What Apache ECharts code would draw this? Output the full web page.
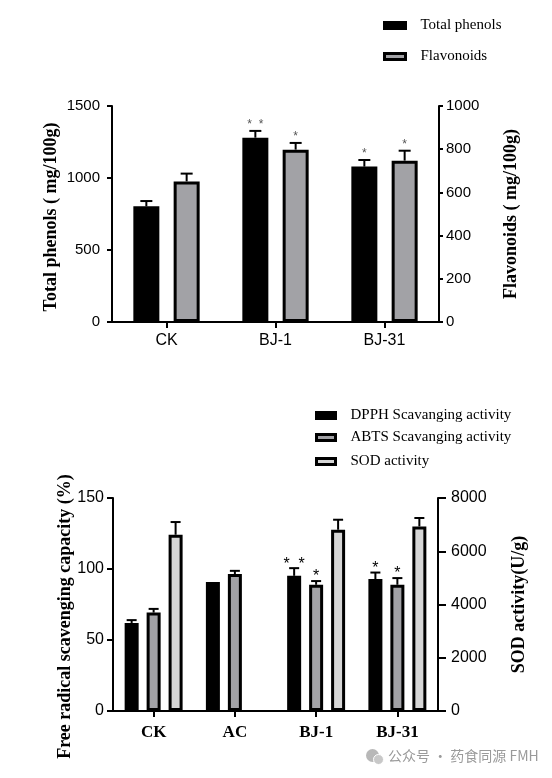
<!DOCTYPE html>
<html>
<head>
<meta charset="utf-8">
<script src="https://cdn.jsdelivr.net/npm/echarts@6/dist/echarts.min.js"></script>
<style>
  html, body { margin: 0; padding: 0; background: #fff; }
  #chart { width: 552px; height: 778px; }
</style>
</head>
<body>
<div id="chart"></div>
<script>
// ---------- Data (top panel) ----------
const topCategories = ['CK', 'BJ-1', 'BJ-31'];
const totalPhenols = [803, 1280, 1079];
const totalPhenolsErr = [37, 47, 46];
const totalPhenolsStars = ['', '*  *', '*'];
const flavonoids = [651, 798, 747];
const flavonoidsErr = [36, 31, 46];
const flavonoidsStars = ['', '*', '*'];
const topLeftAxis = { min: 0, max: 1500, interval: 500 };
const topRightAxis = { min: 0, max: 1000, interval: 200 };

// ---------- Data (bottom panel) ----------
const bottomCategories = ['CK', 'AC', 'BJ-1', 'BJ-31'];
const dpph = [62, 90.8, 95.2, 92.9];
const dpphErr = [2, null, 5.4, 4.6];
const dpphStars = ['', '', '*  *', '*'];
const abts = [69.3, 96.4, 88.9, 88.9];
const abtsErr = [2.6, 2.3, 2.6, 4.7];
const abtsStars = ['', '', '*', '*'];
const sod = [6620, null, 6808, 6932];
const sodErr = [477, null, 376, 316];
const sodStars = ['', '', '', ''];
const bottomLeftAxis = { min: 0, max: 150, interval: 50 };
const bottomRightAxis = { min: 0, max: 8000, interval: 2000 };

const watermark = '公众号 · 药食同源 FMH';

// ---------- Styling helpers ----------
const SANS = 'Liberation Sans';
const SERIF = 'Liberation Serif';
const GRAY = '#a2a2a6';
const LIGHT = '#d6d6d6';

function errorSeries(values, errs, stars, xIdx, yIdx, offset, capHalf, starFont, starColor, starLift) {
  return {
    type: 'custom',
    xAxisIndex: xIdx,
    yAxisIndex: yIdx,
    z: 10,
    silent: true,
    data: values.map((v, i) => [i, v == null ? NaN : v, errs[i] == null ? 0 : errs[i]]),
    renderItem: function (params, api) {
      const i = api.value(0), v = api.value(1), e = api.value(2);
      if (isNaN(v)) return null;
      const base = api.coord([i, v]);
      const x = base[0] + offset;
      const children = [];
      let topY = base[1];
      if (e) {
        topY = api.coord([i, v + e])[1];
        children.push({ type: 'line', shape: { x1: x, y1: base[1], x2: x, y2: topY }, style: { stroke: '#000', lineWidth: 2 } });
        children.push({ type: 'line', shape: { x1: x - capHalf, y1: topY, x2: x + capHalf, y2: topY }, style: { stroke: '#000', lineWidth: 2 } });
      }
      const s = stars[i];
      if (s) {
        children.push({ type: 'text', style: { text: s, x: x, y: topY + starLift, align: 'center', verticalAlign: 'bottom', fontFamily: SANS, fontSize: starFont, fill: starColor } });
      }
      return { type: 'group', children: children };
    }
  };
}

function legendItem(name, left, top, iw, ih) {
  return {
    data: [name], left: left, top: top, padding: 0, orient: 'vertical',
    icon: 'rect', itemWidth: iw, itemHeight: ih,
    itemStyle: { borderColor: '#000', borderWidth: 3 },
    textStyle: { fontFamily: SERIF, fontSize: 15, color: '#000', padding: [0, 0, 0, 10] },
    selectedMode: false
  };
}

const axisLineStyle = { show: true, lineStyle: { color: '#000', width: 2 } };
const plainNum = v => String(v);

// Bar geometry constants (pixels)
const TOP_BW = 26, TOP_GAP = 0.55;
const TOP_STEP = TOP_BW * (1 + TOP_GAP);
const BOT_BW = 14, BOT_GAP = 0.57;
const BOT_STEP = BOT_BW * (1 + BOT_GAP);

const nameStyle = { fontFamily: SERIF, fontWeight: 'bold', fontSize: 18, color: '#000' };

const option = {
  backgroundColor: '#fff',
  animation: false,
  grid: [
    { left: 112, right: 113, top: 106, bottom: 456 },
    { left: 113, right: 114, top: 498, bottom: 67 }
  ],
  legend: [
    legendItem('Total phenols', 383, 18, 21, 6),
    legendItem('Flavonoids', 383, 49, 21, 6),
    legendItem('DPPH Scavanging activity', 315, 408, 19, 6),
    legendItem('ABTS Scavanging activity', 315, 430, 19, 6),
    legendItem('SOD activity', 315, 454, 19, 6)
  ],
  xAxis: [
    {
      type: 'category', gridIndex: 0, data: topCategories,
      axisLine: axisLineStyle,
      axisTick: { show: true, alignWithLabel: true, length: 6, lineStyle: { width: 2, color: '#000' } },
      axisLabel: { fontFamily: SANS, fontSize: 16, color: '#000', margin: 11 }
    },
    {
      type: 'category', gridIndex: 1, data: bottomCategories,
      axisLine: axisLineStyle,
      axisTick: { show: true, alignWithLabel: true, length: 6, lineStyle: { width: 2, color: '#000' } },
      axisLabel: { fontFamily: SERIF, fontWeight: 'bold', fontSize: 17, color: '#000', margin: 13 }
    }
  ],
  yAxis: [
    {
      type: 'value', gridIndex: 0, position: 'left',
      min: topLeftAxis.min, max: topLeftAxis.max, interval: topLeftAxis.interval,
      axisLine: axisLineStyle, splitLine: { show: false },
      axisTick: { show: true, length: 5, lineStyle: { width: 2, color: '#000' } },
      axisLabel: { fontFamily: SANS, fontSize: 15, color: '#000', margin: 12, formatter: plainNum },
      name: 'Total phenols ( mg/100g)', nameLocation: 'middle', nameRotate: 90, nameGap: 52,
      nameMoveOverlap: false,
      nameTextStyle: Object.assign({}, nameStyle, { padding: [0, 6, 0, 0] })
    },
    {
      type: 'value', gridIndex: 0, position: 'right',
      min: topRightAxis.min, max: topRightAxis.max, interval: topRightAxis.interval,
      axisLine: axisLineStyle, splitLine: { show: false },
      axisTick: { show: true, length: 4, lineStyle: { width: 2, color: '#000' } },
      axisLabel: { fontFamily: SANS, fontSize: 15, color: '#000', margin: 7, formatter: plainNum },
      name: 'Flavonoids ( mg/100g)', nameLocation: 'middle', nameRotate: 90, nameGap: 63,
      nameMoveOverlap: false,
      nameTextStyle: nameStyle
    },
    {
      type: 'value', gridIndex: 1, position: 'left',
      min: bottomLeftAxis.min, max: bottomLeftAxis.max, interval: bottomLeftAxis.interval,
      axisLine: axisLineStyle, splitLine: { show: false },
      axisTick: { show: true, length: 6, lineStyle: { width: 2, color: '#000' } },
      axisLabel: { fontFamily: SANS, fontSize: 16, color: '#000', margin: 9, formatter: plainNum },
      name: 'Free radical scavenging capacity (%)', nameLocation: 'middle', nameRotate: 90, nameGap: 39,
      nameMoveOverlap: false,
      nameTextStyle: Object.assign({}, nameStyle, { padding: [0, 24, 0, 0] })
    },
    {
      type: 'value', gridIndex: 1, position: 'right',
      min: bottomRightAxis.min, max: bottomRightAxis.max, interval: bottomRightAxis.interval,
      axisLine: axisLineStyle, splitLine: { show: false },
      axisTick: { show: true, length: 8, lineStyle: { width: 2, color: '#000' } },
      axisLabel: { fontFamily: SANS, fontSize: 16, color: '#000', margin: 13, formatter: plainNum },
      name: 'SOD activity(U/g)', nameLocation: 'middle', nameRotate: 90, nameGap: 72,
      nameMoveOverlap: false,
      nameTextStyle: nameStyle
    }
  ],
  series: [
    {
      name: 'Total phenols', type: 'bar', xAxisIndex: 0, yAxisIndex: 0, data: totalPhenols,
      barWidth: TOP_BW, barGap: (TOP_GAP * 100) + '%',
      itemStyle: { color: '#000', borderColor: '#000', borderWidth: 3 }
    },
    {
      name: 'Flavonoids', type: 'bar', xAxisIndex: 0, yAxisIndex: 1, data: flavonoids,
      barWidth: TOP_BW, barGap: (TOP_GAP * 100) + '%',
      itemStyle: { color: GRAY, borderColor: '#000', borderWidth: 3 }
    },
    errorSeries(totalPhenols, totalPhenolsErr, totalPhenolsStars, 0, 0, -TOP_STEP / 2, 6, 12, '#555', 0),
    errorSeries(flavonoids, flavonoidsErr, flavonoidsStars, 0, 1, TOP_STEP / 2, 6, 12, '#555', 0),

    {
      name: 'DPPH Scavanging activity', type: 'bar', xAxisIndex: 1, yAxisIndex: 2, data: dpph,
      barWidth: BOT_BW, barGap: (BOT_GAP * 100) + '%',
      itemStyle: { color: '#000', borderColor: '#000', borderWidth: 3 }
    },
    {
      name: 'ABTS Scavanging activity', type: 'bar', xAxisIndex: 1, yAxisIndex: 2, data: abts,
      barWidth: BOT_BW, barGap: (BOT_GAP * 100) + '%',
      itemStyle: { color: GRAY, borderColor: '#000', borderWidth: 3 }
    },
    {
      name: 'SOD activity', type: 'bar', xAxisIndex: 1, yAxisIndex: 3, data: sod.map(v => v == null ? '-' : v),
      barWidth: BOT_BW, barGap: (BOT_GAP * 100) + '%',
      itemStyle: { color: LIGHT, borderColor: '#000', borderWidth: 3 }
    },
    errorSeries(dpph, dpphErr, dpphStars, 1, 2, -BOT_STEP, 5, 16, '#000', 4),
    errorSeries(abts, abtsErr, abtsStars, 1, 2, 0, 5, 16, '#000', 4),
    errorSeries(sod, sodErr, sodStars, 1, 3, BOT_STEP, 5, 16, '#000', 4)
  ],
  graphic: [
    {
      type: 'group', left: 366, top: 749,
      children: [
        { type: 'circle', shape: { cx: 7, cy: 7, r: 6.5 }, style: { fill: '#b8b8b8' } },
        { type: 'circle', shape: { cx: 13, cy: 11, r: 5 }, style: { fill: '#c8c8c8', stroke: '#fff', lineWidth: 1 } }
      ]
    },
    {
      type: 'text', left: 388, top: 749,
      style: { text: watermark, fontFamily: 'Noto Sans CJK SC', fontSize: 14, fill: '#9a9a9a' }
    }
  ]
};

const chart = echarts.init(document.getElementById('chart'), null, { renderer: 'canvas' });
chart.setOption(option);
</script>
</body>
</html>
